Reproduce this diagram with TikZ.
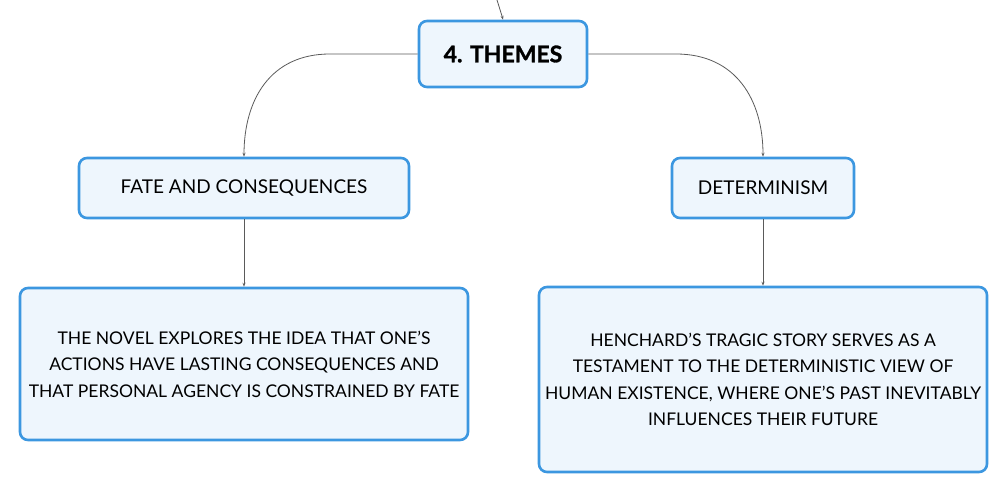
\documentclass[tikz,border=0pt]{standalone}
\usepackage{fontspec}
\setmainfont{Lato}
\newfontfamily\heavyfont[BoldFeatures={FakeBold=1.3}]{Lato}
\usetikzlibrary{arrows.meta}
\definecolor{boxblue}{HTML}{3C97E0}
\definecolor{boxfill}{HTML}{EEF6FD}
\definecolor{linegray}{HTML}{5A5A5A}
\begin{document}
\begin{tikzpicture}[x=1pt,y=-1pt,
  topic/.style={draw=boxblue,line width=2.6pt,fill=boxfill,rounded corners=8pt,inner sep=0pt,align=center,font=\fontsize{19}{23}\selectfont},
  desc/.style={topic,font=\fontsize{17.5}{26.5}\selectfont},
  conn/.style={draw=linegray,line width=0.8pt,-{Stealth[length=4pt,width=3pt]}}]
\useasboundingbox (0,0) rectangle (1008,494);
\node[topic,minimum width=168pt,minimum height=66pt,font=\fontsize{23}{27}\selectfont\heavyfont\bfseries] (themes) at (503,54) {4. THEMES};
\node[topic,minimum width=330pt,minimum height=60pt] (fate) at (244,188) {FATE AND CONSEQUENCES};
\node[topic,minimum width=182pt,minimum height=60pt] (det) at (763,188) {DETERMINISM};
\node[desc,minimum width=448pt,minimum height=152pt] (fdesc) at (244,364) {THE NOVEL EXPLORES THE IDEA THAT ONE'S\\ACTIONS HAVE LASTING CONSEQUENCES AND\\THAT PERSONAL AGENCY IS CONSTRAINED BY FATE};
\node[desc,minimum width=448pt,minimum height=185pt] (ddesc) at (763,379.5) {HENCHARD'S TRAGIC STORY SERVES AS A\\TESTAMENT TO THE DETERMINISTIC VIEW OF\\HUMAN EXISTENCE, WHERE ONE'S PAST INEVITABLY\\INFLUENCES THEIR FUTURE};
\coordinate (top) at (497,0);
\draw[conn] (top) .. controls (500,8) .. (themes.north);
\draw[conn] (themes.west) -- (330,54) .. controls (270,54) and (244,100) .. (fate.north);
\draw[conn] (themes.east) -- (676,54) .. controls (736,54) and (763,100) .. (det.north);
\draw[conn] (fate.south) -- (fdesc.north);
\draw[conn] (det.south) -- (ddesc.north);
\end{tikzpicture}
\end{document}
